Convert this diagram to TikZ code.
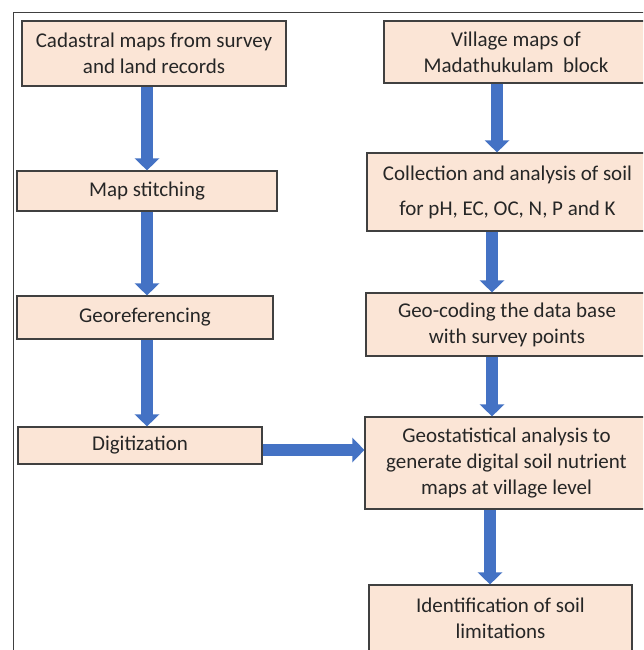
\documentclass[tikz,border=0pt]{standalone}
\usepackage{fontspec}
\setmainfont{Carlito}
\usetikzlibrary{arrows.meta}
\definecolor{boxfill}{HTML}{FBE5D6}
\definecolor{boxline}{HTML}{404040}
\definecolor{flowblue}{HTML}{4472C4}
\definecolor{txt}{HTML}{262626}
\tikzset{
  box/.style={draw=boxline, line width=1.2pt, fill=boxfill, align=center,
    text=txt, inner sep=0pt, font=\fontsize{21}{26}\selectfont},
  flow/.style={draw=flowblue, line width=12pt,
    -{Triangle[width=24pt,length=12pt]}}
}
\begin{document}
\begin{tikzpicture}[x=1pt, y=1pt]
  \clip (0,0) rectangle (643,-650);
  \fill[white] (0,0) rectangle (643,-650);
  % outer frame
  \draw[boxline, line width=1pt] (13,-700) -- (13,-13) -- (700,-13);

  % left column
  \node[box, minimum width=264, minimum height=65] (cad) at (154,-53.5)
    {Cadastral maps from survey\\and land records};
  \node[box, minimum width=260, minimum height=40] (stitch) at (147,-191)
    {Map stitching};
  \node[box, minimum width=256, minimum height=43] (georef) at (145,-317.5)
    {Georeferencing};
  \node[box, minimum width=244, minimum height=37] (digit) at (140,-445.5)
    {Digitization};

  % right column
  \node[box, minimum width=264, minimum height=62] (village) at (516,-52)
    {Village maps of\\Madathukulam\ \ block};
  \node[box, minimum width=281, minimum height=78] (soil) at (507.5,-192)
    {Collection and analysis of soil\\[9pt]for pH, EC, OC, N, P and K};
  \node[box, minimum width=282, minimum height=63] (geocode) at (507,-324.5)
    {Geo-coding the data base\\with survey points};
  \node[box, minimum width=283, minimum height=92] (geostat) at (506.5,-463)
    {Geostatistical\ analysis to\\generate digital soil nutrient\\maps at village level};
  \node[box, minimum width=263, minimum height=67] (limit) at (500.5,-618.5)
    {Identification\ of soil\\limitations};

  % arrows
  \draw[flow] (stitch.north |- cad.south) -- (stitch.north);
  \draw[flow] (stitch.south) -- (stitch.south |- georef.north);
  \draw[flow] (stitch.south |- georef.south) -- (stitch.south |- digit.north);
  \draw[flow] ([xshift=-19]village.south) -- ([xshift=-19]village.south |- soil.north);
  \draw[flow] ([xshift=-15.5]soil.south) -- ([xshift=-15.5]soil.south |- geocode.north);
  \draw[flow] ([xshift=-15]geocode.south) -- ([xshift=-15]geocode.south |- geostat.north);
  \draw[flow] ([xshift=-16.5]geostat.south) -- ([xshift=-16.5]geostat.south |- limit.north);
  \draw[flow] ([yshift=-4.5]digit.east) -- ([yshift=-4.5]digit.east -| geostat.west);
\end{tikzpicture}
\end{document}
